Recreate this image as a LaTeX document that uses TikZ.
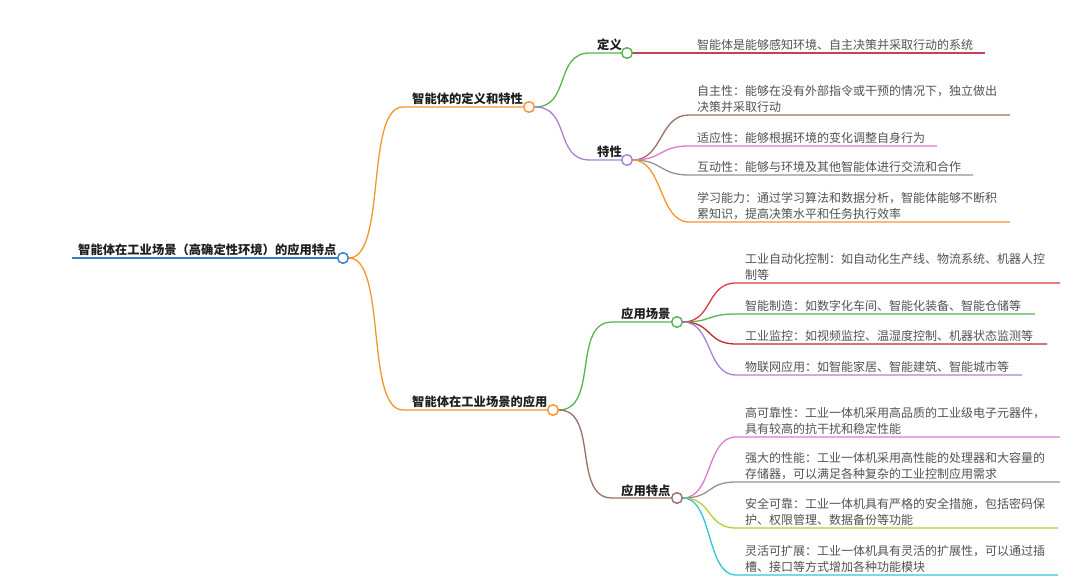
\documentclass[tikz,border=0pt]{standalone}
\usepackage{fontspec}
\setmainfont{Noto Sans CJK SC}
\usetikzlibrary{positioning,calc}
\definecolor{rootblue}{RGB}{52,126,196}
\definecolor{mmorange}{RGB}{247,148,44}
\definecolor{mmgreen}{RGB}{88,180,80}
\definecolor{mmpurple}{RGB}{170,130,212}
\definecolor{mmred}{RGB}{196,66,82}
\definecolor{mmbrown}{RGB}{152,112,102}
\definecolor{mmpink}{RGB}{226,122,204}
\definecolor{mmgray}{RGB}{148,148,148}
\definecolor{mmlime}{RGB}{190,202,46}
\definecolor{mmcyan}{RGB}{48,198,212}
\definecolor{mmredb}{RGB}{222,58,66}
\definecolor{mmredc}{RGB}{200,36,46}

\begin{document}
\begin{tikzpicture}[
  x=1pt, y=-1pt,
  topic/.style = {font=\bfseries\fontsize{12.3}{15}\selectfont, text=black!88,
                  inner sep=0pt, anchor=base west},
  leaf/.style  = {font=\fontsize{12}{16}\selectfont, text=black!68,
                  inner sep=0pt, align=left, anchor=south west},
  dot/.style   = {circle, draw, fill=white, line width=1.3pt,
                  minimum size=10.5pt, inner sep=0pt},
  link/.style  = {line width=1.3pt},
]
\useasboundingbox (0,0) rectangle (1080,585);

% root
\node[topic] (root) at (78,255) {智能体在工业场景（高确定性环境）的应用特点};
\node[dot, draw=rootblue] (rootc) at (343,258) {};
\coordinate (rootl) at (72,258);
\draw[line width=2.4pt, rootblue] (rootl) -- (rootc.west);

% first level
\node[topic] (def) at (412,104) {智能体的定义和特性};
\node[dot, draw=mmorange] (defc) at (529,107) {};
\coordinate (defl) at (403,107);
\node[topic] (app) at (412,407) {智能体在工业场景的应用};
\node[dot, draw=mmorange] (appc) at (553,410) {};
\coordinate (appl) at (403,410);
\draw[link, mmorange] (rootc.east) .. controls +(38,0) and +(-38,0) .. (defl) -- (defc.west);
\draw[link, mmorange] (rootc.east) .. controls +(38,0) and +(-38,0) .. (appl) -- (appc.west);

% second level
\node[topic] (dy) at (597,50) {定义};
\node[dot, draw=mmgreen] (dyc) at (627,53) {};
\coordinate (dyl) at (590,53);
\node[topic] (tx) at (597,157) {特性};
\node[dot, draw=mmpurple] (txc) at (627,160) {};
\coordinate (txl) at (590,160);
\draw[link, mmgreen] (defc.east) .. controls +(36,0) and +(-36,0) .. (dyl) -- (dyc.west);
\draw[link, mmpurple] (defc.east) .. controls +(36,0) and +(-36,0) .. (txl) -- (txc.west);

\node[topic] (cj) at (621,319) {应用场景};
\node[dot, draw=mmgreen] (cjc) at (677,322) {};
\coordinate (cjl) at (612,322);
\node[topic] (td) at (621,495) {应用特点};
\node[dot, draw=mmbrown] (tdc) at (677,498) {};
\coordinate (tdl) at (612,498);
\draw[link, mmgreen] (appc.east) .. controls +(40,0) and +(-40,0) .. (cjl) -- (cjc.west);
\draw[link, mmbrown] (appc.east) .. controls +(40,0) and +(-40,0) .. (tdl) -- (tdc.west);

% leaves of 定义
\node[leaf] (dy1) at (697,51) {智能体是能够感知环境、自主决策并采取行动的系统};
\coordinate (dy1e) at (985,53);
\draw[link, mmred] (dyc.east) -- (dy1e);

% leaves of 特性
\node[leaf] (tx1) at (697,113) {自主性：能够在没有外部指令或干预的情况下，独立做出\\决策并采取行动};
\node[leaf] (tx2) at (697,144) {适应性：能够根据环境的变化调整自身行为};
\node[leaf] (tx3) at (697,173) {互动性：能够与环境及其他智能体进行交流和合作};
\node[leaf] (tx4) at (697,220) {学习能力：通过学习算法和数据分析，智能体能够不断积\\累知识，提高决策水平和任务执行效率};
\coordinate (tx1s) at (689,115); \coordinate (tx1e) at (1010,115);
\coordinate (tx2s) at (689,146); \coordinate (tx2e) at (937,146);
\coordinate (tx3s) at (689,175); \coordinate (tx3e) at (973,175);
\coordinate (tx4s) at (689,222); \coordinate (tx4e) at (1010,222);
\draw[link, mmbrown]  (txc.east) .. controls +(30,0) and +(-30,0) .. (tx1s) -- (tx1e);
\draw[link, mmpink]   (txc.east) .. controls +(30,0) and +(-30,0) .. (tx2s) -- (tx2e);
\draw[link, mmgray]   (txc.east) .. controls +(30,0) and +(-30,0) .. (tx3s) -- (tx3e);
\draw[link, mmorange] (txc.east) .. controls +(30,0) and +(-30,0) .. (tx4s) -- (tx4e);

% leaves of 应用场景
\node[leaf] (cj1) at (745,281) {工业自动化控制：如自动化生产线、物流系统、机器人控\\制等};
\node[leaf] (cj2) at (745,312) {智能制造：如数字化车间、智能化装备、智能仓储等};
\node[leaf] (cj3) at (745,342) {工业监控：如视频监控、温湿度控制、机器状态监测等};
\node[leaf] (cj4) at (745,373) {物联网应用：如智能家居、智能建筑、智能城市等};
\coordinate (cj1s) at (736,283); \coordinate (cj1e) at (1060,283);
\coordinate (cj2s) at (736,314); \coordinate (cj2e) at (1035,314);
\coordinate (cj3s) at (736,344); \coordinate (cj3e) at (1047,344);
\coordinate (cj4s) at (736,375); \coordinate (cj4e) at (1022,375);
\draw[link, mmredb]  (cjc.east) .. controls +(30,0) and +(-30,0) .. (cj1s) -- (cj1e);
\draw[link, mmgreen] (cjc.east) .. controls +(30,0) and +(-30,0) .. (cj2s) -- (cj2e);
\draw[link, mmredc]  (cjc.east) .. controls +(30,0) and +(-30,0) .. (cj3s) -- (cj3e);
\draw[link, mmpurple](cjc.east) .. controls +(30,0) and +(-30,0) .. (cj4s) -- (cj4e);

% leaves of 应用特点
\node[leaf] (td1) at (745,435) {高可靠性：工业一体机采用高品质的工业级电子元器件，\\具有较高的抗干扰和稳定性能};
\node[leaf] (td2) at (745,480) {强大的性能：工业一体机采用高性能的处理器和大容量的\\存储器，可以满足各种复杂的工业控制应用需求};
\node[leaf] (td3) at (745,526) {安全可靠：工业一体机具有严格的安全措施，包括密码保\\护、权限管理、数据备份等功能};
\node[leaf] (td4) at (745,573) {灵活可扩展：工业一体机具有灵活的扩展性，可以通过插\\槽、接口等方式增加各种功能模块};
\coordinate (td1s) at (736,437); \coordinate (td1e) at (1060,437);
\coordinate (td2s) at (736,482); \coordinate (td2e) at (1060,482);
\coordinate (td3s) at (736,528); \coordinate (td3e) at (1058,528);
\coordinate (td4s) at (736,575); \coordinate (td4e) at (1058,575);
\draw[link, mmpink] (tdc.east) .. controls +(30,0) and +(-30,0) .. (td1s) -- (td1e);
\draw[link, mmgray] (tdc.east) .. controls +(30,0) and +(-30,0) .. (td2s) -- (td2e);
\draw[link, mmlime] (tdc.east) .. controls +(30,0) and +(-30,0) .. (td3s) -- (td3e);
\draw[link, mmcyan] (tdc.east) .. controls +(30,0) and +(-30,0) .. (td4s) -- (td4e);

% dots on top of the lines
\node[dot, draw=rootblue] at (rootc) {};
\node[dot, draw=mmorange] at (defc) {};
\node[dot, draw=mmorange] at (appc) {};
\node[dot, draw=mmgreen] at (dyc) {};
\node[dot, draw=mmpurple] at (txc) {};
\node[dot, draw=mmgreen] at (cjc) {};
\node[dot, draw=mmbrown] at (tdc) {};
\end{tikzpicture}
\end{document}
